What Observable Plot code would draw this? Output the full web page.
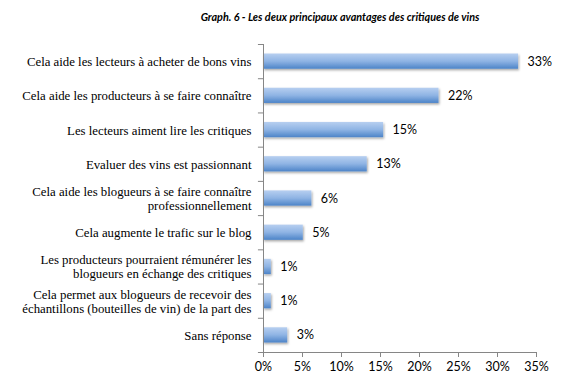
<!DOCTYPE html>
<html><head><meta charset="utf-8">
<script src="https://cdn.jsdelivr.net/npm/d3@7"></script>
<script src="https://cdn.jsdelivr.net/npm/@observablehq/plot@0.6"></script>
<style>
body{margin:0;background:#fff;}
#title{height:30px;width:569px;position:relative;}
#title span{position:absolute;left:340px;top:10px;line-height:12px;transform:translateX(-50%);font:italic bold 10.8px Lato, sans-serif;white-space:nowrap;color:#000}
</style></head><body>
<div id="title"><span>Graph. 6 - Les deux principaux avantages des critiques de vins</span></div>
<div id="chart"></div>
<script>
const categories = [
  "Cela aide les lecteurs à acheter de bons vins",
  "Cela aide les producteurs à se faire connaître",
  "Les lecteurs aiment lire les critiques",
  "Evaluer des vins est passionnant",
  "Cela aide les blogueurs à se faire connaître\nprofessionnellement",
  "Cela augmente le trafic sur le blog",
  "Les producteurs pourraient rémunérer les\nblogueurs en échange des critiques",
  "Cela permet aux blogueurs de recevoir des\néchantillons (bouteilles de vin) de la part des",
  "Sans réponse"
];
const values = [32.7, 22.5, 15.4, 13.3, 6.2, 5.1, 1.0, 1.0, 3.1];
const valueLabels = ["33%", "22%", "15%", "13%", "6%", "5%", "1%", "1%", "3%"];
const xTicks = [0, 5, 10, 15, 20, 25, 30, 35];

const data = categories.map((c, i) => ({cat: c, i, v: values[i], lab: valueLabels[i]}));
const bounds = d3.range(0, categories.length + 1);

const axisColor = "#868686";
const plot = Plot.plot({
  width: 569,
  height: 349,
  marginLeft: 263,
  marginRight: 33,
  marginTop: 14,
  marginBottom: 27,
  style: {background: "#fff", overflow: "visible"},
  x: {domain: [0, 35], axis: null},
  y: {domain: [0, categories.length], reverse: true, axis: null},
  marks: [
    Plot.rectX(data, {x1: 0, x2: "v", y1: "i", y2: d => d.i + 1, insetTop: 9.5, insetBottom: 9.5, fill: "url(#barGrad)"}),
    Plot.ruleX([0], {y1: 0, y2: categories.length, stroke: axisColor}),
    Plot.ruleY([categories.length], {x1: 0, x2: 35, stroke: axisColor}),
    Plot.ruleY(bounds, {y: d => d, x1: -0.65, x2: 0, stroke: axisColor}),
    Plot.axisX(xTicks, {ticks: xTicks, label: null, tickSize: 5, tickPadding: 5, stroke: axisColor, tickFormat: d => d + "%", fontSize: 12.5, fontFamily: "Lato, sans-serif", fill: "#000"}),
    Plot.text(data, {x: 0, y: d => d.i + 0.5, text: "cat", textAnchor: "end", dx: -12, fontSize: 12.8, fontFamily: "Liberation Serif, serif", fill: "#000", lineHeight: 1.1}),
    Plot.text(data, {x: "v", y: d => d.i + 0.5, text: "lab", textAnchor: "start", dx: 9, fontSize: 12.5, fontFamily: "Lato, sans-serif", fill: "#000"})
  ]
});

const svgNS = "http://www.w3.org/2000/svg";
const defs = document.createElementNS(svgNS, "defs");
defs.innerHTML = `
<linearGradient id="barGrad" x1="0" y1="0" x2="0" y2="1">
  <stop offset="0" stop-color="#b7cff0"/>
  <stop offset="0.5" stop-color="#8fb4e4"/>
  <stop offset="1" stop-color="#4d84c8"/>
</linearGradient>
<filter id="shadow" x="-10%" y="-30%" width="130%" height="180%">
  <feDropShadow dx="1" dy="1.5" stdDeviation="0.8" flood-color="#000" flood-opacity="0.35"/>
</filter>`;
plot.insertBefore(defs, plot.firstChild);
const rects = plot.querySelector("g[aria-label='rect']");
if (rects) rects.setAttribute("filter", "url(#shadow)");
document.getElementById("chart").appendChild(plot);
</script>
</body></html>
